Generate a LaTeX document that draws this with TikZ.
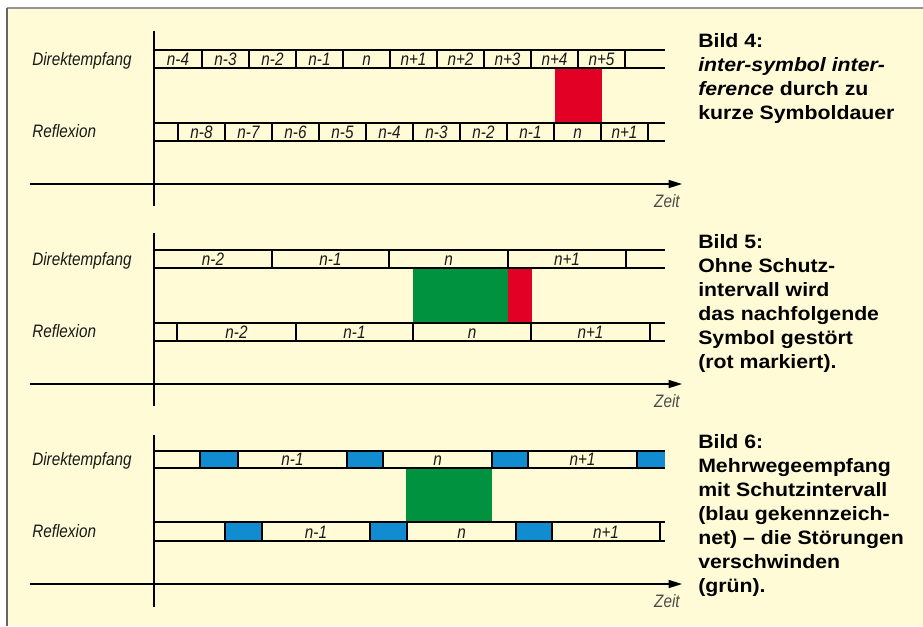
\documentclass[tikz,border=0pt]{standalone}
\usepackage{fontspec}
\usepackage{tikz}
\usepackage{xcolor}
\usetikzlibrary{arrows.meta}
\newfontfamily\lblfont[FakeStretch=0.85]{Liberation Sans}
\newfontfamily\capfont[FakeStretch=1.1]{Liberation Sans}
\definecolor{paper}{RGB}{255,251,214}
\definecolor{isired}{RGB}{226,0,36}
\definecolor{okgreen}{RGB}{0,146,63}
\definecolor{guardblue}{RGB}{18,140,208}
\definecolor{framegray}{RGB}{100,100,100}

\begin{document}
\begin{tikzpicture}[x=0.75pt, y=-0.75pt,
		wire/.style={line width=1pt},
		timeaxis/.style={line width=1pt, -{Triangle[length=10pt, width=6pt]}},
		lbl/.style={font=\lblfont\itshape\fontsize{13.5}{15}\selectfont, inner sep=0pt, anchor=base, text=black!90},
		rowname/.style={lbl, anchor=base west},
		zeit/.style={lbl, anchor=base east, text=black!70},
		bildtext/.style={font=\capfont\bfseries\fontsize{14.5}{18}\selectfont, align=left, inner sep=0pt, anchor=north west}]
				\useasboundingbox (0,0) rectangle (923,626);
				% Background and frame:
				\fill[paper] (7,8) rectangle (923,626);
				\draw[line width=1.2pt, framegray!70] (7,8) -- (923,8);
				\draw[line width=1.4pt, framegray] (7,8) -- (7,626);

				% Bild 4: inter-symbol interference
				\fill[isired] (555,68) rectangle (602,123);
				\draw[wire] (154,31) -- (154,206);
				\draw[timeaxis] (30,184) -- (682,184);
				\draw[wire] (154,50) -- (665,50) (154,68) -- (665,68);
				\draw[wire] (202,50) -- ++(0,18) (249,50) -- ++(0,18) (296,50) -- ++(0,18) (343,50) -- ++(0,18) (390,50) -- ++(0,18);
				\draw[wire] (437,50) -- ++(0,18) (484,50) -- ++(0,18) (531,50) -- ++(0,18) (578,50) -- ++(0,18) (625,50) -- ++(0,18);
				\draw[wire] (154,123) -- (665,123) (154,141) -- (665,141);
				\draw[wire] (178,123) -- ++(0,18) (225,123) -- ++(0,18) (272,123) -- ++(0,18) (319,123) -- ++(0,18) (366,123) -- ++(0,18) (413,123) -- ++(0,18);
				\draw[wire] (460,123) -- ++(0,18) (507,123) -- ++(0,18) (554,123) -- ++(0,18) (601,123) -- ++(0,18) (648,123) -- ++(0,18);
				\node[rowname] (A1) at (32,65) {Direktempfang};
				\node[rowname] (A2) at (32,137) {Reflexion};
				\node[lbl] (A3) at (178,65) {n-4};
				\node[lbl] (A4) at (225.5,65) {n-3};
				\node[lbl] (A5) at (272.5,65) {n-2};
				\node[lbl] (A6) at (319.5,65) {n-1};
				\node[lbl] (A7) at (366.5,65) {n};
				\node[lbl] (A8) at (413.5,65) {n+1};
				\node[lbl] (A9) at (460.5,65) {n+2};
				\node[lbl] (A10) at (507.5,65) {n+3};
				\node[lbl] (A11) at (554.5,65) {n+4};
				\node[lbl] (A12) at (601.5,65) {n+5};
				\node[lbl] (A13) at (201.5,138) {n-8};
				\node[lbl] (A14) at (248.5,138) {n-7};
				\node[lbl] (A15) at (295.5,138) {n-6};
				\node[lbl] (A16) at (342.5,138) {n-5};
				\node[lbl] (A17) at (389.5,138) {n-4};
				\node[lbl] (A18) at (436.5,138) {n-3};
				\node[lbl] (A19) at (483.5,138) {n-2};
				\node[lbl] (A20) at (530.5,138) {n-1};
				\node[lbl] (A21) at (577.5,138) {n};
				\node[lbl] (A22) at (624.5,138) {n+1};
				\node[zeit] (A23) at (680,207) {Zeit};
				\node[bildtext] (bild4) at (698,33) {Bild 4:\\\itshape inter-symbol inter-\\\itshape ference\upshape{} durch zu\\kurze Symboldauer};

				% Bild 5: ohne Schutzintervall
				\fill[okgreen] (413,268) rectangle (508,323);
				\fill[isired] (508,268) rectangle (532,323);
				\draw[wire] (154,233) -- (154,406);
				\draw[timeaxis] (30,384) -- (682,384);
				\draw[wire] (154,250) -- (665,250) (154,268) -- (665,268);
				\draw[wire] (272,250) -- ++(0,18) (389,250) -- ++(0,18) (508,250) -- ++(0,18) (626,250) -- ++(0,18);
				\draw[wire] (154,323) -- (665,323) (154,341) -- (665,341);
				\draw[wire] (177,323) -- ++(0,18) (296,323) -- ++(0,18) (413,323) -- ++(0,18) (531,323) -- ++(0,18) (650,323) -- ++(0,18);
				\node[rowname] (B1) at (32,265) {Direktempfang};
				\node[rowname] (B2) at (32,337) {Reflexion};
				\node[lbl] (B3) at (213,265) {n-2};
				\node[lbl] (B4) at (330.5,265) {n-1};
				\node[lbl] (B5) at (448.5,265) {n};
				\node[lbl] (B6) at (567,265) {n+1};
				\node[lbl] (B7) at (236.5,338) {n-2};
				\node[lbl] (B8) at (354.5,338) {n-1};
				\node[lbl] (B9) at (472,338) {n};
				\node[lbl] (B10) at (590.5,338) {n+1};
				\node[zeit] (B11) at (680,407) {Zeit};
				\node[bildtext] (bild5) at (698,234) {Bild 5:\\Ohne Schutz-\\intervall wird\\das nachfolgende\\Symbol gestört\\(rot markiert).};

				% Bild 6: mit Schutzintervall
				\fill[okgreen] (406,468) rectangle (492,522);
				\draw[wire] (154,435) -- (154,607);
				\draw[timeaxis] (30,584) -- (682,584);
				\filldraw[wire, fill=guardblue] (200,451) rectangle (238,468);
				\filldraw[wire, fill=guardblue] (347,451) rectangle (383,468);
				\filldraw[wire, fill=guardblue] (492,451) rectangle (528,468);
				\fill[guardblue] (637,451) rectangle (665,468);
				\draw[wire] (637,451) -- ++(0,17);
				\draw[wire] (154,451) -- (665,451) (154,468) -- (665,468);
				\filldraw[wire, fill=guardblue] (225,522) rectangle (262,541);
				\filldraw[wire, fill=guardblue] (370,522) rectangle (407,541);
				\filldraw[wire, fill=guardblue] (516,522) rectangle (552,541);
				\draw[wire] (154,522) -- (665,522) (154,541) -- (665,541);
				\draw[wire] (660,522) -- ++(0,19);
				\node[rowname] (C1) at (32,465) {Direktempfang};
				\node[rowname] (C2) at (32,537) {Reflexion};
				\node[lbl] (C3) at (292.5,465) {n-1};
				\node[lbl] (C4) at (437.5,465) {n};
				\node[lbl] (C5) at (582.5,465) {n+1};
				\node[lbl] (C6) at (316,538) {n-1};
				\node[lbl] (C7) at (461.5,538) {n};
				\node[lbl] (C8) at (606,538) {n+1};
				\node[zeit] (C9) at (680,607) {Zeit};
				\node[bildtext] (bild6) at (698,434) {Bild 6:\\Mehrwegeempfang\\mit Schutzintervall\\(blau gekennzeich-\\net) – die Störungen\\verschwinden\\(grün).};
			\end{tikzpicture}
\end{document}
